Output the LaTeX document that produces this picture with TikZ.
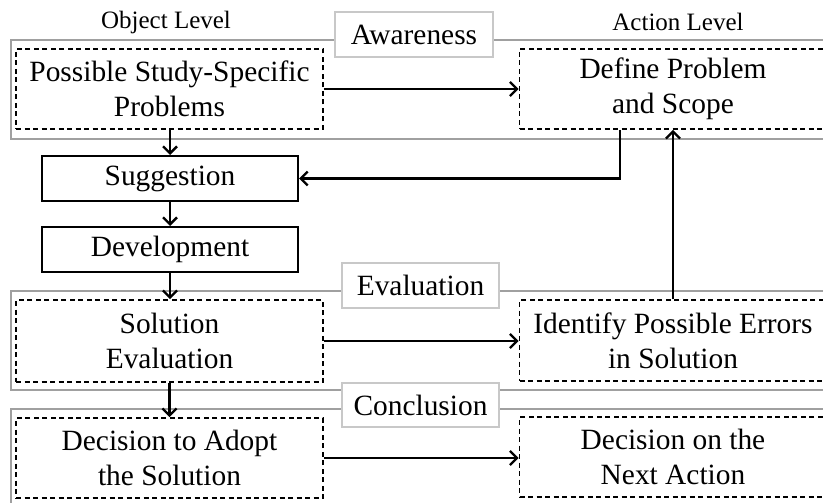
\documentclass[tikz,border=0pt]{standalone}
\usepackage{fontspec}
\setmainfont{Liberation Serif}
\usetikzlibrary{arrows.meta}
\definecolor{phase}{RGB}{160,160,160}
\definecolor{tagline}{RGB}{200,200,200}
\tikzset{
  bigtext/.style={font=\fontsize{29.4}{35}\selectfont, align=center, inner sep=0pt},
  leveltext/.style={font=\fontsize{25}{30}\selectfont, inner sep=0pt},
  phasebox/.style={draw=phase, line width=2.6pt},
  phasetag/.style={bigtext, draw=tagline, fill=white, line width=1.2pt},
  dashbox/.style={bigtext, draw, dash pattern=on 5pt off 3.5pt, line width=1.7pt, minimum width=307pt, minimum height=80pt},
  solidbox/.style={bigtext, draw, line width=2pt, minimum width=256pt, minimum height=45pt},
  flow/.style={line width=2.8pt, -{Straight Barb[length=7pt,width=14pt,line width=2.4pt]}},
}
\begin{document}
\begin{tikzpicture}[x=1pt, y=-1pt]
\useasboundingbox (0,0) rectangle (823,503);
\clip (0,0) rectangle (823,503);
\fill[white] (0,0) rectangle (823,503);

% phase frames
\draw[phasebox] (11,40) rectangle (840,139);
\draw[phasebox] (11,291) rectangle (840,390);
\draw[phasebox] (11,409) rectangle (840,520);

% column headings
\node[leveltext] (objlvl) at (166,22) {Object Level};
\node[leveltext] (actlvl) at (678,22) {Action Level};

% phase tags
\node[phasetag, minimum width=158pt, minimum height=45pt] (aware) at (414,34.5) {Awareness};
\node[phasetag, minimum width=157pt, minimum height=45pt] (evalt) at (420.5,285.5) {Evaluation};
\node[phasetag, minimum width=157pt, minimum height=44pt] (concl) at (420.5,405) {Conclusion};

% steps
\node[dashbox] (pssp) at (169.5,89) {Possible Study-Specific\\Problems};
\node[dashbox] (dps) at (673,89) {Define Problem\\and Scope};
\node[solidbox] (sugg) at (170,178.5) {Suggestion};
\node[solidbox] (dev) at (170,249.5) {Development};
\node[dashbox, minimum height=82pt] (sol) at (169.5,341) {Solution\\Evaluation};
\node[dashbox, minimum height=81pt] (ident) at (673,340.5) {Identify Possible Errors\\in Solution};
\node[dashbox] (dec) at (169.5,458) {Decision to Adopt\\the Solution};
\node[dashbox] (next) at (673,457) {Decision on the\\Next Action};

% connectors
\coordinate (back) at (620,0);
\draw[flow] (pssp.east) -- (dps.west);
\draw[flow] (pssp.south -| sugg.north) -- (sugg.north);
\draw[flow] (sugg) -- (dev);
\draw[flow] (dev.south) -- (dev.south |- sol.north);
\draw[flow] (sol.south -| dec.north) -- (dec.north);
\draw[flow] (dps.south -| back) |- (sugg.east);
\draw[flow] (ident.north) -- (dps.south);
\draw[flow] (sol.east) -- (sol.east -| ident.west);
\draw[flow] (dec.east) -- (dec.east -| next.west);
\end{tikzpicture}
\end{document}
